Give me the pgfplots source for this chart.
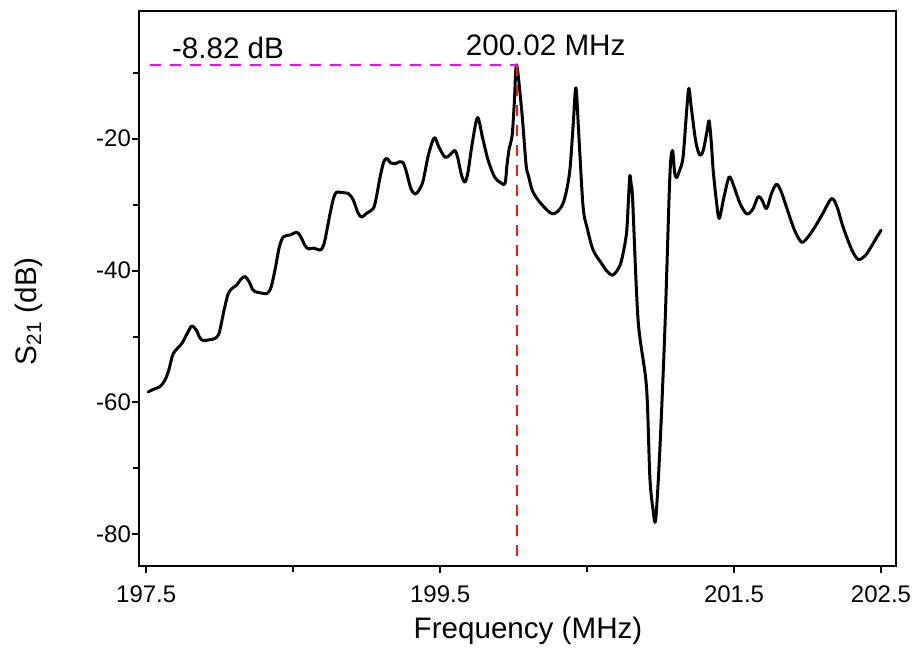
\documentclass[border=0pt]{standalone}
\usepackage{fontspec}
\setmainfont{Liberation Sans}
\usepackage{pgfplots}
\pgfplotsset{compat=1.18}

\definecolor{peakred}{RGB}{255,20,20}
\definecolor{levelmag}{RGB}{255,0,255}

\begin{document}
\begin{tikzpicture}
\path[use as bounding box] (-69.65pt,-42pt) rectangle (387.35pt,283pt);
\begin{axis}[
  scale only axis,
  width=378.35pt, height=277.65pt,
  at={(0pt,0pt)}, anchor=south west,
  xmin=197.453, xmax=202.602,
  ymin=-84.8, ymax=-0.6,
  axis line style={line width=1pt},
  tick pos=left, tick align=outside,
  major tick length=3.5pt, minor tick length=3pt,
  every tick/.style={line width=1pt, black},
  xtick={197.5,199.5,201.5,202.5},
  xticklabels={197.5,199.5,201.5,202.5},
  minor xtick={198.5,200.5},
  ytick={-80,-60,-40,-20},
  yticklabels={-80,-60,-40,-20},
  minor ytick={-70,-50,-30,-10},
  xticklabel style={font=\fontsize{12}{14}\selectfont, inner sep=0pt, anchor=north, yshift=-6pt},
  yticklabel style={font=\fontsize{12}{14}\selectfont, inner sep=0pt, anchor=east, xshift=-0.5pt},
  xlabel={Frequency (MHz)},
  ylabel={S\textsubscript{21} (dB)},
  xlabel style={font=\fontsize{14.8}{17}\selectfont, inner sep=0pt,
    at={(axis description cs:0.5137,0)}, anchor=base, yshift=-36pt},
  ylabel style={font=\fontsize{14.8}{17}\selectfont, inner sep=0pt,
    at={(axis description cs:-0.1458,0.459)}, anchor=center},
  clip=false,
]
% measured transmission
\addplot[black, line width=1.5pt, line join=round, line cap=round, smooth, tension=0.5] coordinates {
(197.514,-58.4) (197.55,-58.0) (197.594,-57.6) (197.628,-56.6) (197.655,-55.0)
(197.684,-52.6) (197.741,-51.1) (197.78,-49.5) (197.81,-48.4) (197.84,-49.0)
(197.865,-50.2) (197.888,-50.6) (197.93,-50.5) (197.968,-50.3) (197.99,-49.8)
(198.002,-49.0) (198.03,-46.0) (198.058,-43.5) (198.085,-42.7) (198.116,-42.2)
(198.145,-41.3) (198.172,-40.9) (198.2,-41.7) (198.225,-42.9) (198.24,-43.2)
(198.28,-43.4) (198.32,-43.5) (198.34,-43.0) (198.354,-42.2) (198.38,-39.5)
(198.405,-36.5) (198.433,-34.9) (198.48,-34.6) (198.524,-34.2) (198.55,-34.8)
(198.58,-36.2) (198.603,-36.7) (198.64,-36.6) (198.682,-36.9) (198.7,-36.5)
(198.716,-35.4) (198.75,-31.5) (198.775,-29.0) (198.796,-28.1) (198.83,-28.2)
(198.875,-28.3) (198.909,-29.3) (198.94,-31.2) (198.966,-31.9) (199.0,-31.3)
(199.045,-30.6) (199.065,-29.0) (199.09,-26.0) (199.115,-23.6) (199.136,-23.0)
(199.165,-23.7) (199.193,-23.8) (199.225,-23.5) (199.249,-23.7) (199.27,-25.0)
(199.3,-27.5) (199.329,-28.4) (199.36,-27.7) (199.385,-26.3) (199.42,-22.5)
(199.46,-19.85) (199.49,-21.2) (199.533,-22.8) (199.57,-22.4) (199.6,-21.8)
(199.62,-22.9) (199.645,-25.5) (199.669,-26.6) (199.69,-25.0) (199.72,-20.5)
(199.755,-16.8) (199.79,-20.0) (199.827,-23.3) (199.87,-25.8) (199.907,-26.6)
(199.941,-26.8) (199.955,-24.0) (199.97,-21.5) (199.99,-19.5) (200.005,-14.5)
(200.02,-8.82) (200.055,-15.7) (200.085,-24.0) (200.1,-25.5) (200.13,-28.0)
(200.188,-29.9) (200.267,-31.4) (200.335,-29.9) (200.38,-25.3) (200.405,-18.0)
(200.424,-12.3) (200.445,-20.0) (200.473,-30.4) (200.5,-33.5) (200.541,-36.9)
(200.598,-38.9) (200.635,-40.1) (200.673,-40.7) (200.71,-39.8) (200.735,-38.4)
(200.768,-34.4) (200.782,-29.0) (200.791,-25.6) (200.80,-27.0) (200.81,-29.3)
(200.847,-47.5) (200.904,-57.6) (200.927,-71.3) (200.95,-76.5) (200.967,-77.7)
(200.995,-67.2) (201.03,-48.5) (201.063,-25.8) (201.081,-21.8) (201.095,-25.0)
(201.108,-25.9) (201.13,-24.8) (201.153,-22.8) (201.175,-16.5) (201.192,-12.4)
(201.21,-15.5) (201.24,-20.5) (201.267,-22.5) (201.29,-21.8) (201.315,-19.0)
(201.33,-17.3) (201.345,-20.5) (201.358,-24.8) (201.38,-29.5) (201.399,-32.1)
(201.43,-29.0) (201.467,-25.8) (201.5,-27.3) (201.54,-29.8) (201.585,-31.4)
(201.625,-30.8) (201.664,-28.8) (201.69,-29.3) (201.721,-30.6) (201.755,-28.3)
(201.789,-26.9) (201.82,-28.0) (201.857,-30.4) (201.91,-33.8) (201.959,-35.7)
(202.0,-35.0) (202.05,-33.4) (202.1,-31.5) (202.163,-29.1) (202.2,-30.3)
(202.242,-33.4) (202.3,-36.8) (202.344,-38.3) (202.39,-37.8) (202.424,-36.7)
(202.47,-35.0) (202.5,-33.9)
};
% peak level and peak frequency markers
\addplot[levelmag, line width=1pt, dash pattern=on 5.5pt off 4.5pt] coordinates {(197.526,-8.82) (200.02,-8.82)};
\addplot[peakred, line width=1pt, dash pattern=on 5.5pt off 4.5pt] coordinates {(200.02,-8.82) (200.02,-83.6)};
\node[anchor=base west, inner sep=0pt, font=\fontsize{14.8}{17}\selectfont] at (axis cs:197.673,-7.9) {-8.82 dB};
\node[anchor=base, inner sep=0pt, font=\fontsize{14.8}{17}\selectfont] at (axis cs:200.218,-7.38) {200.02 MHz};
\end{axis}
\end{tikzpicture}
\end{document}
